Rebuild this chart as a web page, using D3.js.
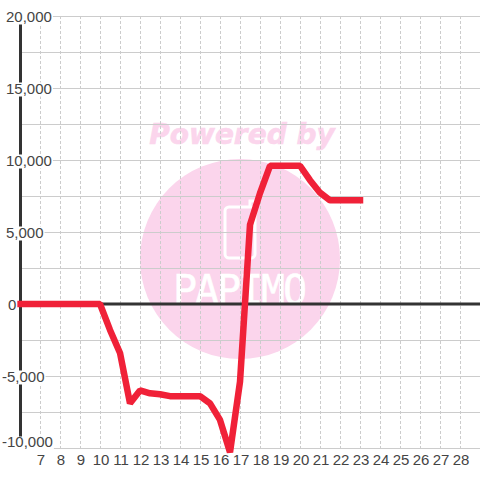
<!DOCTYPE html>
<html>
<head>
<meta charset="utf-8">
<script src="https://cdnjs.cloudflare.com/ajax/libs/d3/7.8.5/d3.min.js"></script>
<style>
  html, body { margin: 0; padding: 0; background: #fff; }
  svg { display: block; }
  text { font-family: "Liberation Sans", Arial, sans-serif; }
</style>
</head>
<body>
<div id="chart"></div>
<script>
// values
const hours = [6, 7, 8, 9, 10, 10.5, 11, 11.5, 12, 12.5, 13, 13.5, 14, 14.5, 15, 15.5, 16, 16.5, 17, 17.5, 18, 18.5, 19, 19.5, 20, 20.5, 21, 21.5, 22, 22.5, 23]
const values = [0, 0, 0, 0, 0, -1800, -3400, -6900, -6000, -6200, -6270, -6400, -6400, -6400, -6400, -6900, -8050, -10300, -5400, 5500, 7700, 9600, 9600, 9600, 9600, 8600, 7730, 7200, 7200, 7200, 7200]

const xTicks = [7, 8, 9, 10, 11, 12, 13, 14, 15, 16, 17, 18, 19, 20, 21, 22, 23, 24, 25, 26, 27, 28]
const yLabelTicks = [20000, 15000, 10000, 5000, 0, -5000, -10000]
const yGridTicks = [20000, 17500, 15000, 12500, 10000, 7500, 5000, 2500, -2500, -5000, -7500, -10000]
const xGridTicks = [7, 8, 9, 10, 11, 12, 13, 14, 15, 16, 17, 18, 19, 20, 21, 22, 23, 24, 25, 26, 27, 28]

const WIDTH = 480
const HEIGHT = 480

const x = d3.scaleLinear().domain([6, 29]).range([20, 480])
const y = d3.scaleLinear().domain([-10000, 20000]).range([448, 16])

const svg = d3.select("#chart").append("svg")
  .attr("width", WIDTH)
  .attr("height", HEIGHT)

// watermark behind the plot
const mark = svg.append("g")
mark.append("circle")
  .attr("cx", 240).attr("cy", 259).attr("r", 100)
  .attr("fill", "#fbd5ec")
mark.append("text")
  .attr("x", 242).attr("y", 144)
  .attr("text-anchor", "middle")
  .attr("fill", "#fbd5ec")
  .attr("stroke", "#fbd5ec")
  .attr("stroke-width", 0.6)
  .style("font-family", "'DejaVu Sans'")
  .style("font-weight", "bold")
  .style("font-style", "italic")
  .style("font-size", "28px")
  .text("Powered by")
mark.append("rect")
  .attr("x", 225).attr("y", 207)
  .attr("width", 30).attr("height", 51).attr("rx", 4)
  .attr("fill", "none")
  .attr("stroke", "#fff")
  .attr("stroke-width", 3)
mark.append("path")
  .attr("d", "M250,207V201H255V210")
  .attr("fill", "none")
  .attr("stroke", "#fff")
  .attr("stroke-width", 3)
mark.append("text")
  .attr("x", 240).attr("y", 304)
  .attr("text-anchor", "middle")
  .attr("fill", "#fff")
  .attr("stroke", "#fff")
  .attr("stroke-width", 0.5)
  .attr("textLength", 134)
  .attr("lengthAdjust", "spacing")
  .style("font-family", "'DejaVu Sans Mono'")
  .style("font-size", "40px")
  .text("PAPIMO")

// grid
svg.append("g").selectAll("line")
  .data(xGridTicks)
  .enter().append("line")
  .attr("x1", d => x(d) + 0.5).attr("x2", d => x(d) + 0.5)
  .attr("y1", y(20000)).attr("y2", y(-10000))
  .attr("stroke", "#ccc")
  .attr("stroke-dasharray", "3,2")

svg.append("g").selectAll("line")
  .data(yGridTicks)
  .enter().append("line")
  .attr("x1", 20).attr("x2", 480)
  .attr("y1", d => y(d) + 0.5).attr("y2", d => y(d) + 0.5)
  .attr("stroke", "#ccc")

// dark axis lines
svg.append("line")
  .attr("x1", x(6) + 0.5).attr("x2", x(6) + 0.5)
  .attr("y1", y(20000)).attr("y2", y(-10000))
  .attr("stroke", "#333")
  .attr("stroke-width", 3)
svg.append("line")
  .attr("x1", 20).attr("x2", 480)
  .attr("y1", y(0)).attr("y2", y(0))
  .attr("stroke", "#333")
  .attr("stroke-width", 3)

// value line
const line = d3.line().x((d, i) => x(hours[i])).y(d => y(d))
svg.append("path")
  .datum(values)
  .attr("d", line)
  .attr("fill", "none")
  .attr("stroke", "#f02138")
  .attr("stroke-width", 6.5)
  .attr("stroke-linecap", "square")
  .attr("stroke-linejoin", "bevel")

// y labels sit on a white box that cuts the grid and the axis
const yAxis = svg.append("g")
  .call(d3.axisRight(y).tickValues(yLabelTicks).tickSize(0).tickPadding(0)
    .tickFormat(d => d3.format(",")(d).replace("\u2212", "-")))
yAxis.select(".domain").remove()
yAxis.selectAll("text")
  .attr("x", d => d < 0 ? 2 : (d == 0 ? 8 : 6))
  .attr("dy", null)
  .attr("y", d => d == -10000 ? -2 : 5)
  .attr("fill", "#444")
  .style("font-size", "15px")
  .style("font-family", "'Liberation Sans'")
yAxis.selectAll(".tick").each(function (d) {
  const t = d3.select(this)
  const box = t.select("text").node().getBBox()
  const top = d == -10000 ? -12 : -6
  t.insert("rect", "text")
    .attr("x", 0).attr("y", top)
    .attr("width", box.x + box.width + 1)
    .attr("height", 14)
    .attr("fill", "#fff")
})

const xAxis = svg.append("g")
  .attr("transform", "translate(0.5,450)")
  .call(d3.axisBottom(x).tickValues(xTicks).tickSize(0).tickPadding(0))
xAxis.select(".domain").remove()
xAxis.selectAll("text")
  .attr("y", 15)
  .attr("dy", null)
  .attr("fill", "#444")
  .style("font-size", "15px")
  .style("font-family", "'Liberation Sans'")
</script>
</body>
</html>
